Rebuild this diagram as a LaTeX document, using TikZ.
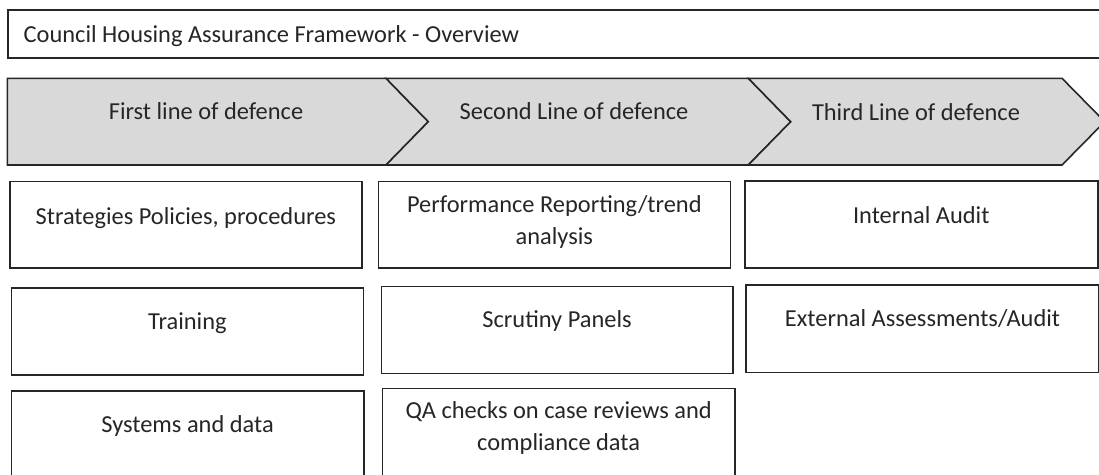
\documentclass[tikz,border=0pt]{standalone}
\usepackage{fontspec}
\setmainfont{Carlito}
\begin{document}
\begin{tikzpicture}[x=1pt,y=-1pt,
  edge/.style={draw=lineclr,line width=1.6pt},
  card/.style={edge,fill=white},
  chev/.style={edge,fill=chevfill,line join=miter},
  txt/.style={text=textclr,font=\fontsize{24.4}{32}\selectfont,inner sep=0pt,align=center,anchor=base},
  box/.style={card,inner sep=0pt,anchor=north west}]
\definecolor{lineclr}{HTML}{262626}
\definecolor{chevfill}{HTML}{D9D9D9}
\definecolor{textclr}{HTML}{262626}
\useasboundingbox (0,0) rectangle (1099,474);
\clip (0,0) rectangle (1099,474);

% title bar
\node[box,minimum width=1110pt,minimum height=48.3pt] (title) at (7.3,9) {};
\node[txt,anchor=base west] (titletxt) at (23.5,42) {Council Housing Assurance Framework - Overview};

% three chevrons
\coordinate (c0t) at (7.3,78.3);   \coordinate (c0b) at (7.3,165);
\coordinate (c1t) at (386,78.3);   \coordinate (c1b) at (386,165);   \coordinate (c1p) at (428.3,121.7);
\coordinate (c2t) at (748.3,78.3); \coordinate (c2b) at (748.3,165); \coordinate (c2p) at (790.7,121.7);
\coordinate (c3t) at (1062,78.3);  \coordinate (c3b) at (1062,165);  \coordinate (c3p) at (1104.7,121.7);
\path[chev] (c0t) -- (c1t) -- (c1p) -- (c1b) -- (c0b) -- cycle;
\path[chev] (c1t) -- (c2t) -- (c2p) -- (c2b) -- (c1b) -- (c1p) -- cycle;
\path[chev] (c2t) -- (c3t) -- (c3p) -- (c3b) -- (c2b) -- (c2p) -- cycle;
\node[txt] (first)  at (206,119)  {First line of defence};
\node[txt] (second) at (574,119)  {Second Line of defence};
\node[txt] (third)  at (916,120)  {Third Line of defence};

% first line of defence
\node[box,minimum width=352pt,minimum height=86.3pt] (s1) at (9,180.7) {};
\node[box,minimum width=352.2pt,minimum height=87pt] (s2) at (10.5,287.3) {};
\node[box,minimum width=352.5pt,minimum height=100pt] (s3) at (10.5,390) {};
\node[txt] at ([yshift=-43.3pt]s1.north) {Strategies Policies, procedures};
\node[txt] at ([yshift=-42pt]s2.north) {Training};
\node[txt] at ([yshift=-42pt]s3.north) {Systems and data};

% second line of defence (two-line texts are placed by their last baseline)
\node[box,minimum width=352pt,minimum height=86.8pt] (m1) at (377.5,180.5) {};
\node[box,minimum width=351.5pt,minimum height=87pt] (m2) at (380.5,285.7) {};
\node[box,minimum width=352.3pt,minimum height=100pt] (m3) at (381.7,387.7) {};
\node[txt] at ([yshift=-64pt]m1.north) {Performance Reporting/trend\\analysis};
\node[txt] at ([yshift=-42pt]m2.north) {Scrutiny Panels};
\node[txt] at ([yshift=-62.5pt]m3.north) {QA checks on case reviews and\\compliance data};

% third line of defence
\node[box,minimum width=353pt,minimum height=87pt] (t1) at (744,180) {};
\node[box,minimum width=352.6pt,minimum height=87.4pt] (t2) at (745.4,284.3) {};
\node[txt] at ([yshift=-43pt]t1.north) {Internal Audit};
\node[txt] at ([yshift=-42pt]t2.north) {External Assessments/Audit};
\end{tikzpicture}
\end{document}
